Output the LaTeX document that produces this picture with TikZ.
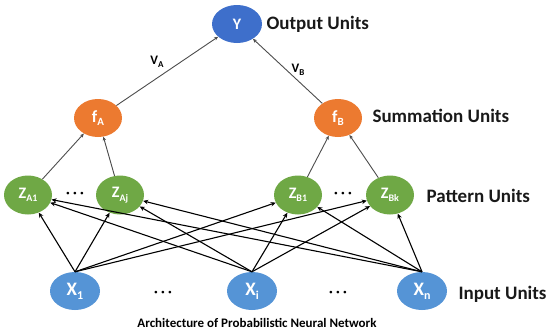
\documentclass[tikz,border=0pt]{standalone}
\usepackage{fontspec}
\setmainfont{Carlito}
\usetikzlibrary{arrows.meta,shapes.geometric}
\newcommand{\lowsub}[2][10]{\raisebox{-0.45ex}{\fontsize{#1}{#1}\selectfont #2}}
\definecolor{ycol}{HTML}{3E6FCB}
\definecolor{xcol}{HTML}{5594D6}
\definecolor{fcol}{HTML}{EC7A30}
\definecolor{zcol}{HTML}{6FA845}
\begin{document}
\begin{tikzpicture}[x=1pt,y=-1pt,
  unit/.style={ellipse, inner sep=0pt, text=white, font=\bfseries\fontsize{16}{16}\selectfont},
  ynode/.style={unit, fill=ycol, minimum width=50pt, minimum height=38pt},
  fnode/.style={unit, fill=fcol, minimum width=48pt, minimum height=38pt, font=\bfseries\fontsize{17}{17}\selectfont},
  znode/.style={unit, fill=zcol, minimum width=48pt, minimum height=39pt},
  xnode/.style={unit, fill=xcol, minimum width=50pt, minimum height=38pt, font=\bfseries\fontsize{19}{19}\selectfont},
  lbl/.style={anchor=west, font=\bfseries\fontsize{19}{19}\selectfont, text=black!90},
  wlbl/.style={font=\bfseries\fontsize{13}{13}\selectfont},
  dotsn/.style={font=\bfseries\fontsize{14}{14}\selectfont},
  upper/.style={draw=black!70, line width=0.9pt, -{Stealth[length=4pt,width=3.5pt]}},
  lower/.style={draw=black, line width=1.1pt, -{Stealth[length=5pt,width=4.5pt]}}
]
\useasboundingbox (0,0) rectangle (548,332);
% nodes
\node[ynode] (Y) at (237,24) {Y};
\node[lbl] (lo) at (263,24) {Output Units};
\node[fnode] (fA) at (98,118) {f\lowsub[11]{A}};
\node[fnode] (fB) at (338,118) {f\lowsub[11]{B}};
\node[lbl] (ls) at (369,116) {Summation Units};
\node[znode] (ZA1) at (28,195) {Z\lowsub{A1}};
\node[znode] (ZAj) at (120,195) {Z\lowsub{Aj}};
\node[znode] (ZB1) at (298,195) {Z\lowsub{B1}};
\node[znode] (ZBk) at (390,195) {Z\lowsub{Bk}};
\node[lbl] (lp) at (423,196) {Pattern Units};
\node[dotsn] (dA) at (75,195) {· · ·};
\node[dotsn] (dB) at (343,195) {· · ·};
\node[xnode] (X1) at (75,291) {X\lowsub[12]{1}};
\node[xnode] (Xi) at (252,291) {X\lowsub[12]{i}};
\node[xnode] (Xn) at (422,291) {X\lowsub[12]{n}};
\node[dotsn] (d1) at (163,294) {· · ·};
\node[dotsn] (d2) at (338,294) {· · ·};
\node[lbl] (li) at (455,294) {Input Units};
\node[font=\bfseries\fontsize{13}{13}\selectfont] (cap) at (257,323) {Architecture of Probabilistic Neural Network};
\node[wlbl] (VA) at (157,62) {V\lowsub[9]{A}};
\node[wlbl] (VB) at (298,70) {V\lowsub[9]{B}};
% upper connectors
\draw[upper] (fA) -- (Y);
\draw[upper] (fB) -- (Y);
\draw[upper] (ZA1) -- (fA);
\draw[upper] (ZAj) -- (fA);
\draw[upper] (ZB1) -- (fB);
\draw[upper] (ZBk) -- (fB);
% lower connectors
\foreach \x in {X1,Xi,Xn}{
  \foreach \z in {ZA1,ZAj,ZB1,ZBk}{
    \draw[lower] (\x.north) -- (\z);
  }
}
\end{tikzpicture}
\end{document}
